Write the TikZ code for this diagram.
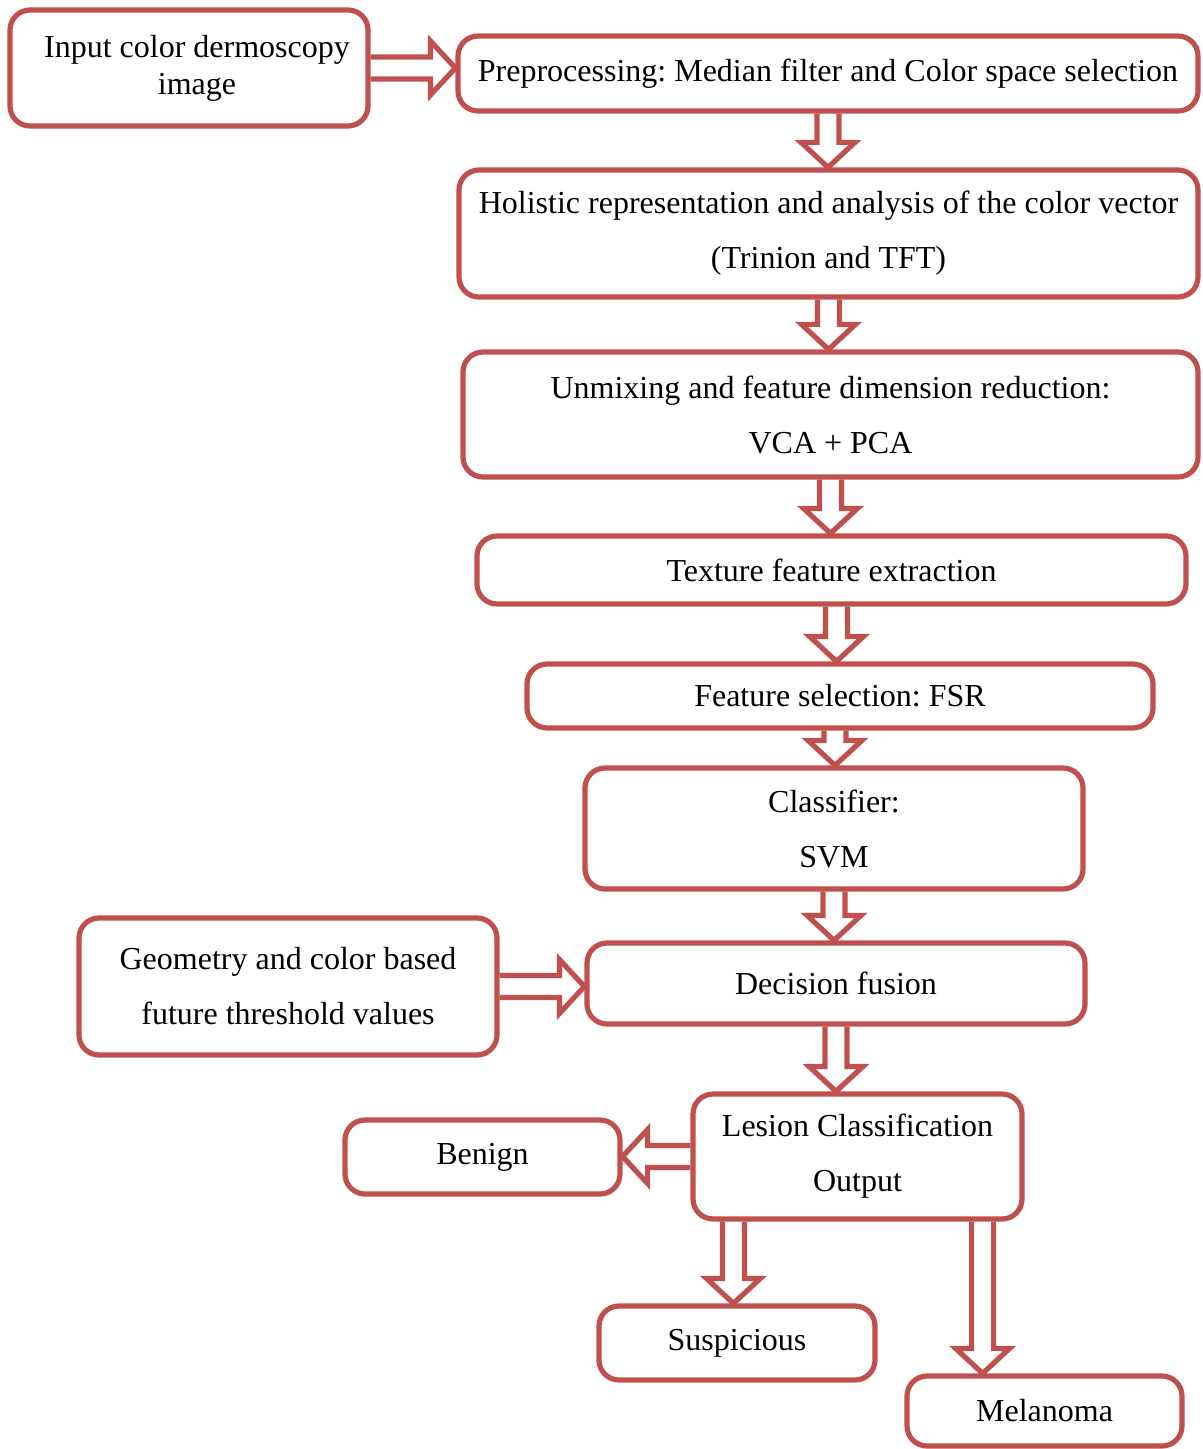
\documentclass[tikz,border=0pt]{standalone}
\usepackage{fontspec}
\setmainfont{Liberation Serif}
\frenchspacing
\usetikzlibrary{positioning,calc}
\definecolor{boxColor}{RGB}{192,80,77}
\newcommand{\ppx}{0.5pt}
\newcommand{\shaftW}{5.5pt}
\newcommand{\headW}{13.5pt}
\newcommand{\headL}{12.5pt}
\tikzstyle{flowchart} = [x=\ppx, y=-\ppx]
\tikzstyle{stepBox} = [draw=boxColor, line width=2.6pt, rounded corners=10pt, fill=white, align=center, inner sep=0pt, font=\fontsize{16}{27.5}\selectfont]
\tikzstyle{arrowLine} = [draw=boxColor, line width=2.6pt, line join=miter]
\newcommand{\downArrow}[2]{\draw [arrowLine] let \p1 = (#1), \p2 = (#2) in (\x1 - \shaftW, \y1) -- (\x1 - \shaftW, \y2 + \headL) -- (\x1 - \headW, \y2 + \headL) -- (\x1, \y2) -- (\x1 + \headW, \y2 + \headL) -- (\x1 + \shaftW, \y2 + \headL) -- (\x1 + \shaftW, \y1);}
\newcommand{\rightArrow}[2]{\draw [arrowLine] let \p1 = (#1), \p2 = (#2) in (\x1, \y1 + \shaftW) -- (\x2 - \headL, \y1 + \shaftW) -- (\x2 - \headL, \y1 + \headW) -- (\x2, \y1) -- (\x2 - \headL, \y1 - \headW) -- (\x2 - \headL, \y1 - \shaftW) -- (\x1, \y1 - \shaftW);}
\newcommand{\leftArrow}[2]{\draw [arrowLine] let \p1 = (#1), \p2 = (#2) in (\x1, \y1 + \shaftW) -- (\x2 + \headL, \y1 + \shaftW) -- (\x2 + \headL, \y1 + \headW) -- (\x2, \y1) -- (\x2 + \headL, \y1 - \headW) -- (\x2 + \headL, \y1 - \shaftW) -- (\x1, \y1 - \shaftW);}
\begin{document}
\begin{tikzpicture}[flowchart]
  \useasboundingbox (0,0) rectangle (1203,1449);

  \node [stepBox, minimum width = 358*\ppx, minimum height = 116*\ppx, font=\fontsize{16}{18.5}\selectfont] (inputImage) at (189,68) {\hspace*{8pt}Input color dermoscopy\\\hspace*{8pt}image};
  \node [stepBox, minimum width = 740*\ppx, minimum height = 75*\ppx] (preprocessing) at (828,73.5) {Preprocessing: Median filter and Color space selection};
  \node [stepBox, minimum width = 739*\ppx, minimum height = 127*\ppx] (holistic) at (828.5,233.5) {Holistic representation and analysis of the color vector\\(Trinion and TFT)};
  \node [stepBox, minimum width = 735*\ppx, minimum height = 125*\ppx] (unmixing) at (830.5,414.5) {Unmixing and feature dimension reduction:\\VCA + PCA};
  \node [stepBox, minimum width = 709*\ppx, minimum height = 68*\ppx] (texture) at (831.5,570) {Texture feature extraction};
  \node [stepBox, minimum width = 626*\ppx, minimum height = 64*\ppx] (selection) at (840,696) {Feature selection: FSR};
  \node [stepBox, minimum width = 498*\ppx, minimum height = 121*\ppx] (classifier) at (834,828.5) {Classifier:\\SVM};
  \node [stepBox, minimum width = 418*\ppx, minimum height = 137*\ppx] (geometry) at (288,986.5) {Geometry and color based\\future threshold values};
  \node [stepBox, minimum width = 498*\ppx, minimum height = 81*\ppx] (fusion) at (836,983.5) {Decision fusion};
  \node [stepBox, minimum width = 329*\ppx, minimum height = 125*\ppx] (lesion) at (857.5,1156.5) {Lesion Classification\\Output};
  \node [stepBox, minimum width = 275*\ppx, minimum height = 74*\ppx] (benign) at (482.5,1157) {Benign};
  \node [stepBox, minimum width = 276*\ppx, minimum height = 74*\ppx] (suspicious) at (737,1343) {Suspicious};
  \node [stepBox, minimum width = 275*\ppx, minimum height = 70*\ppx] (melanoma) at (1044.5,1411) {Melanoma};

  % block arrows
  \rightArrow{inputImage.east}{preprocessing.west}
  \downArrow{preprocessing.south}{holistic.north}
  \downArrow{holistic.south}{unmixing.north}
  \downArrow{unmixing.south}{texture.north}
  \downArrow{$(texture.south)+(5,0)$}{selection.north}
  \downArrow{$(selection.south)+(-5,0)$}{classifier.north}
  \downArrow{classifier.south}{fusion.north}
  \rightArrow{geometry.east}{fusion.west}
  \downArrow{fusion.south}{lesion.north}
  \leftArrow{lesion.west}{benign.east}
  \downArrow{$(lesion.south west)+(43,0)$}{suspicious.north}
  \downArrow{$(lesion.south east)+(-42,0)$}{melanoma.north}
\end{tikzpicture}
\end{document}
